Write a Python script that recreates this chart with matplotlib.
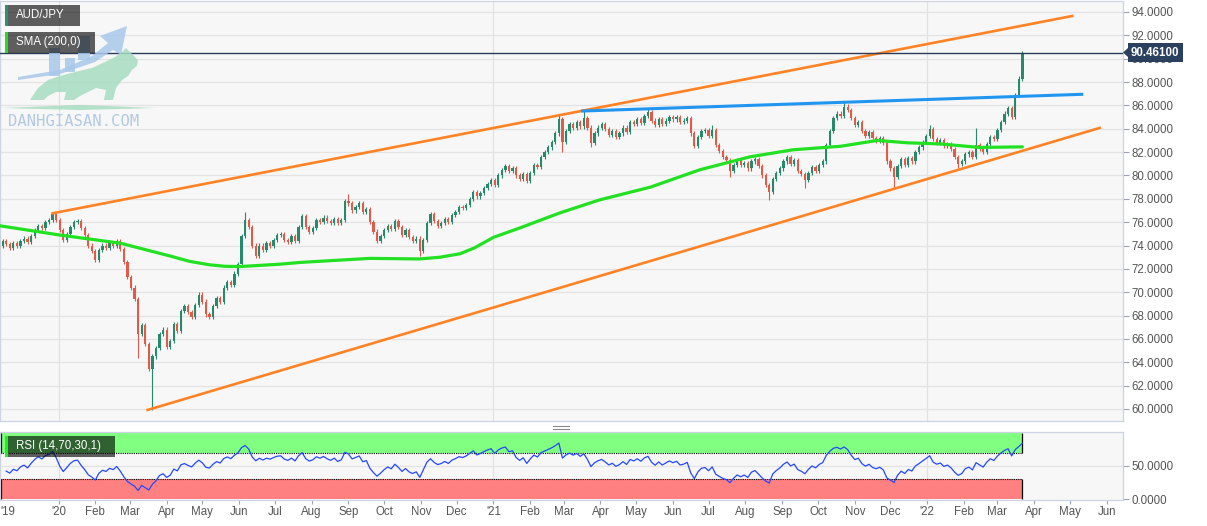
import matplotlib
matplotlib.use('Agg')
import matplotlib.pyplot as plt
import matplotlib.dates as mdates
from matplotlib.patches import Rectangle, Polygon
from matplotlib.lines import Line2D
from matplotlib.transforms import Affine2D
from matplotlib.ticker import FormatStrFormatter
import numpy as np
import pandas as pd

plt.rcParams['font.family'] = ['Liberation Sans', 'DejaVu Sans']

# ---- data (3-day candles, AUD/JPY) ----
last_date = '2022-03-22'
first_open = 74.5
closes = [
    74.3, 74.0, 74.4, 74.1, 73.8, 74.2, 74.0,                          # Nov 19
    74.4, 74.6, 74.3, 74.8, 75.3, 75.7, 75.5, 76.0, 76.2, 76.7,        # Dec 19
    76.2, 75.3, 74.5, 75.0, 75.6, 76.0, 76.1, 75.5, 74.9, 74.0,        # Jan 20
    73.5, 72.8, 73.6, 74.0, 73.8, 74.2, 74.0, 74.4, 73.7, 72.6,        # Feb
    71.3, 70.4, 69.4, 66.4, 67.2, 65.6, 63.4, 64.5, 65.2, 66.4,        # Mar
    66.8, 65.3, 65.8, 67.3, 66.7, 68.4, 68.8, 68.3, 67.9, 68.9,        # Apr
    69.8, 69.2, 68.1, 67.9, 68.8, 69.5, 69.2, 70.4, 70.9, 70.6,        # May
    71.6, 72.4, 74.8, 76.2, 75.6, 74.0, 73.1, 74.0, 73.6, 74.2,        # Jun
    74.0, 74.5, 74.9, 75.0, 74.5, 74.3, 74.8, 74.4, 75.6, 76.5,        # Jul
    75.6, 75.2, 75.5, 76.2, 76.0, 76.4, 76.1, 75.9, 76.3, 75.9, 76.2,  # Aug
    77.8, 77.6, 77.0, 77.3, 77.6, 76.9, 77.1, 76.0, 75.2, 74.4,        # Sep
    74.8, 75.3, 75.7, 75.4, 76.1, 75.6, 74.9, 75.3, 74.7, 74.4, 74.6,  # Oct
    73.5, 74.5, 75.9, 76.7, 76.1, 75.7, 75.9, 76.3, 76.0, 76.6,        # Nov
    76.9, 77.3, 77.2, 77.5, 78.0, 78.6, 78.2, 78.5, 78.9, 79.3,        # Dec
    79.6, 79.2, 80.0, 80.5, 80.8, 80.4, 80.6, 80.0, 79.7, 80.1, 79.5,  # Jan 21
    80.2, 80.9, 80.7, 81.6, 82.0, 82.4, 82.9, 83.6, 84.8, 82.9,        # Feb
    83.8, 84.4, 84.1, 84.6, 84.2, 84.9, 84.1, 82.8, 83.6, 84.1,        # Mar
    84.4, 84.0, 83.5, 83.8, 83.3, 83.6, 84.1, 83.7, 84.6, 84.4,        # Apr
    84.8, 84.5, 85.1, 85.4, 84.7, 84.3, 84.8, 84.4, 84.7, 85.0,        # May
    84.8, 85.0, 84.6, 84.7, 84.9, 83.6, 82.5, 83.3, 83.8, 83.9,        # Jun
    83.4, 83.9, 82.6, 82.1, 81.6, 81.3, 80.4, 80.9, 81.3, 80.9,        # Jul
    81.1, 80.6, 81.2, 81.4, 80.8, 80.0, 79.2, 78.6, 79.7, 80.2,        # Aug
    80.6, 81.2, 81.6, 81.0, 81.3, 80.4, 80.1, 79.6, 80.2, 80.7,        # Sep
    80.4, 80.9, 81.2, 82.6, 83.8, 84.9, 85.3, 85.1, 85.9, 85.6,        # Oct
    84.9, 84.3, 84.6, 83.8, 83.4, 83.7, 83.2, 83.0, 83.2, 82.8,        # Nov
    81.2, 80.6, 79.9, 80.8, 81.4, 80.9, 81.5, 81.2, 82.0, 82.4, 82.9,  # Dec
    83.4, 84.0, 83.1, 82.8, 83.0, 82.5, 82.7, 82.3, 81.6, 81.0,        # Jan 22
    81.2, 81.8, 82.0, 81.6, 82.6, 82.3, 82.0, 82.7, 83.3, 83.1,        # Feb
    83.9, 84.6, 85.3, 85.8, 85.0, 86.9, 88.3, 90.46,                   # Mar
]

# long wicks (highs / lows) seen on the chart
spike_dates = ['2019-12-27', '2020-03-09', '2020-03-19', '2020-06-06', '2020-08-31',
               '2020-10-30', '2021-02-25', '2021-02-27', '2021-03-17', '2021-03-23',
               '2021-05-10', '2021-07-05', '2021-07-19', '2021-08-20', '2021-09-20',
               '2021-10-24', '2021-12-03', '2022-01-03', '2022-01-27', '2022-02-11',
               '2022-03-22']
spike_prices = [76.85, 64.4, 59.92, 76.85, 78.4,
                73.1, 85.25, 82.0, 85.52, 82.4,
                85.8, 84.3, 79.9, 77.9, 78.9,
                86.3, 78.8, 84.3, 80.6, 84.1,
                90.55]

sma_dates = ['2019-11-12', '2020-01-02', '2020-02-22', '2020-04-04', '2020-04-20',
             '2020-05-07', '2020-05-20', '2020-06-02', '2020-07-05', '2020-07-22',
             '2020-09-19', '2020-10-31', '2020-11-17', '2020-12-04', '2020-12-16',
             '2021-01-01', '2021-01-23', '2021-02-26', '2021-03-31', '2021-05-13',
             '2021-06-24', '2021-08-05', '2021-09-10', '2021-10-20', '2021-11-20',
             '2021-12-15', '2022-01-12', '2022-02-14', '2022-03-22']
sma_values = [75.7, 74.9, 74.2, 73.1, 72.65,
              72.35, 72.22, 72.2, 72.4, 72.55,
              72.9, 72.85, 73.0, 73.3, 73.8,
              74.7, 75.5, 76.8, 77.9, 79.0,
              80.5, 81.6, 82.2, 82.5, 83.0,
              82.8, 82.7, 82.4, 82.45]

upper_dates = ['2019-12-27', '2022-05-03']
upper_prices = [76.76, 93.66]
lower_dates = ['2020-03-16', '2022-05-26']
lower_prices = [59.92, 84.07]
resist_dates = ['2021-03-17', '2022-05-11']
resist_prices = [85.52, 86.95]
last_price = 90.461

price_ticks = np.arange(60, 95, 2)
month_starts = pd.date_range('2020-01-01', '2022-06-01', freq='MS')
month_labels = ["'" + str(d.year)[2:] if d.month == 1 else d.strftime('%b') for d in month_starts]

UP, DOWN = '#27896b', '#e05a47'
W, H = 1207, 526

# ---- candles ----
dates = pd.date_range(end=last_date, periods=len(closes), freq='3D')
x = mdates.date2num(dates)
c = np.array(closes)
o = np.r_[first_open, c[:-1]]
hi = np.maximum(o, c) + 0.18
lo = np.minimum(o, c) - 0.18
for d, p in zip(spike_dates, spike_prices):
    i = np.abs(x - mdates.date2num(pd.Timestamp(d))).argmin()
    if p > c[i]:
        hi[i] = max(hi[i], p)
    else:
        lo[i] = min(lo[i], p)

# RSI (Wilder smoothing) on the 3-day bars, seeded from the first few moves
n = 10
seed = 3
delta = np.diff(c)
rsi = np.full(len(c), np.nan)
ag = np.clip(delta[:seed], 0, None).mean() + 0.05
al = np.clip(-delta[:seed], 0, None).mean() + 0.05
rsi[seed] = 100 - 100 / (1 + ag / al)
for k in range(seed, len(delta)):
    ag = (ag * (n - 1) + max(delta[k], 0)) / n
    al = (al * (n - 1) + max(-delta[k], 0)) / n
    rsi[k + 1] = 100 - 100 / (1 + ag / al)

fig = plt.figure(figsize=(W / 100, H / 100), dpi=100, facecolor='white')
ax = fig.add_axes([0, (H - 421) / H, 1123 / W, 420 / H])
rax = fig.add_axes([0, 26 / H, 1123 / W, 68.5 / H])

x0 = mdates.date2num(pd.Timestamp('2020-01-01')) - 58.5 / 1.1885
x1 = x0 + 1123 / 1.1885

for a in (ax, rax):
    a.set_facecolor('#f7f7f7')
    a.set_xlim(x0, x1)
    for s in a.spines.values():
        s.set_color('#cdd3e2')
        s.set_linewidth(0.9)
    for yr in ['2020-01-01', '2021-01-01', '2022-01-01']:
        a.axvline(mdates.date2num(pd.Timestamp(yr)), color='#e2e2e2', lw=0.9, zorder=0.5)

# main panel
ax.set_ylim(58.972, 94.942)
for p in price_ticks:
    ax.axhline(p, color='#e3e3e3', lw=0.9, zorder=0.5)
col = np.where(c >= o, UP, DOWN)
ax.vlines(x, lo, hi, colors=col, lw=0.8, zorder=3)
ax.bar(x, np.maximum(np.abs(c - o), 0.06), bottom=np.minimum(o, c), width=1.9,
       color=col, linewidth=0, zorder=3)
ax.plot(mdates.date2num(pd.to_datetime(sma_dates)), sma_values, color='#22e022', lw=2.3,
        zorder=4, solid_capstyle='round', solid_joinstyle='round')
ax.plot(mdates.date2num(pd.to_datetime(upper_dates)), upper_prices, color='#ff8224', lw=1.9, zorder=4)
ax.plot(mdates.date2num(pd.to_datetime(lower_dates)), lower_prices, color='#ff8224', lw=1.9, zorder=4)
ax.plot(mdates.date2num(pd.to_datetime(resist_dates)), resist_prices, color='#2196f0', lw=2.2, zorder=4)
ax.axhline(last_price, color='#2a3c5a', lw=1.0, zorder=5)

ax.yaxis.tick_right()
ax.set_yticks(price_ticks)
ax.yaxis.set_major_formatter(FormatStrFormatter('%.4f'))
ax.tick_params(axis='y', length=4, width=0.8, color='#9aa3b5', labelcolor='#555555',
               labelsize=8.3, pad=2)
ax.tick_params(axis='x', bottom=False, labelbottom=False)

# RSI panel
rax.set_ylim(-1.05, 101.8)
rax.axhline(50, color='#e3e3e3', lw=0.9, zorder=0.5)
xe = x[-1]
rax.fill_between([x0, xe], 70, 100, color='#80ff80', lw=0, zorder=1)
rax.fill_between([x0, xe], 0, 30, color='#ff8080', lw=0, zorder=1)
rax.hlines([70, 30], x0, xe, colors='black', linestyles=(0, (1, 1)), lw=0.8, zorder=2)
rax.vlines([xe, xe], [70, 0], [100, 30], colors='black', lw=0.9, zorder=2)
rax.vlines([x0 + 0.5, x0 + 0.5], [70, 0], [100, 30], colors='black', lw=0.9, zorder=2)
rax.plot(x, rsi, color='#2447ff', lw=0.9, zorder=3)

rax.yaxis.tick_right()
rax.set_yticks([0, 50])
rax.yaxis.set_major_formatter(FormatStrFormatter('%.4f'))
rax.tick_params(axis='y', length=4, width=0.8, color='#9aa3b5', labelcolor='#555555',
                labelsize=8.3, pad=2)
rax.set_xticks(mdates.date2num(month_starts))
rax.set_xticklabels(month_labels)
rax.tick_params(axis='x', length=3, width=0.8, color='#9aa3b5', labelcolor='#555555',
                labelsize=8.3, pad=1.5)

# ---- overlays in pixel coordinates ----
pix = Affine2D().scale(1 / W, -1 / H).translate(0, 1) + fig.transFigure


def ptext(px, py, s, **kw):
    fig.text(px / W, 1 - py / H, s, **kw)


ptext(0.5, 512, "'19", ha='left', va='center', fontsize=8.3, color='#555555')

# watermark
wm_blue = '#a9c9ea'
wm_green = '#a6dcc0'
fig.add_artist(Polygon([(18, 80), (60, 74), (95, 62), (113, 50), (121, 55), (127, 26),
                        (100, 36), (108, 43), (92, 56), (60, 70), (18, 77)],
                       closed=True, transform=pix, color=wm_blue, alpha=0.85, lw=0))
for bx, by, bw, bh in [(49, 48, 11, 28), (65, 58, 10, 14), (78, 36, 12, 24)]:
    fig.add_artist(Rectangle((bx, by), bw, bh, transform=pix, color=wm_blue, alpha=0.85, lw=0))
fig.add_artist(Polygon([(30, 100), (38, 88), (48, 80), (60, 76), (75, 72), (92, 68), (105, 62),
                        (115, 57), (122, 52), (126, 48), (130, 52), (134, 56), (138, 60), (137, 66),
                        (132, 70), (128, 76), (122, 80), (116, 88), (113, 100), (104, 100),
                        (106, 90), (96, 88), (88, 92), (80, 96), (74, 100), (64, 100), (66, 92),
                        (56, 92), (48, 96), (44, 100)],
                       closed=True, transform=pix, color=wm_green, alpha=0.85, lw=0))
fig.add_artist(Polygon([(2, 108), (80, 105), (155, 108), (80, 110)], closed=True,
                       transform=pix, color=wm_green, alpha=0.85, lw=0))
ptext(8, 121, 'DANHGIASAN.COM', family='DejaVu Sans Mono', fontsize=11.2, color='#b3c9e3',
      va='center', ha='left')

# legend boxes
for (bx, by, bw, bh, bar, label) in [(5, 5, 75, 20.5, '#2f8f75', 'AUD/JPY'),
                                     (5, 32, 90, 21, '#22dd22', 'SMA (200,0)'),
                                     (5, 436, 110, 20.5, '#22ee22', 'RSI (14,70,30,1)')]:
    fig.add_artist(Rectangle((bx, by), bw, bh, transform=pix, color='black', alpha=0.62, lw=0))
    fig.add_artist(Rectangle((bx, by), 2.5, bh, transform=pix, color=bar, lw=0))
    ptext(bx + 11, by + bh / 2, label, color='white', fontsize=8.3, va='center', ha='left')

# last price tag
fig.add_artist(Polygon([(1123, 52.5), (1128, 48), (1128, 57)], closed=True, transform=pix,
                       color='#2b3f5f', lw=0))
ptext(1131, 52.5, '90.46100', color='white', fontsize=8.3, fontweight='bold', va='center',
      ha='left', bbox=dict(boxstyle='square,pad=0.3', fc='#2b3f5f', ec='none'))

# panel resize handle
for hy in (425.5, 428.5):
    fig.add_artist(Line2D([553, 569], [hy, hy], transform=pix, color='#8a8a8a', lw=0.8))

fig.savefig('out.png', dpi=100, facecolor='white')
